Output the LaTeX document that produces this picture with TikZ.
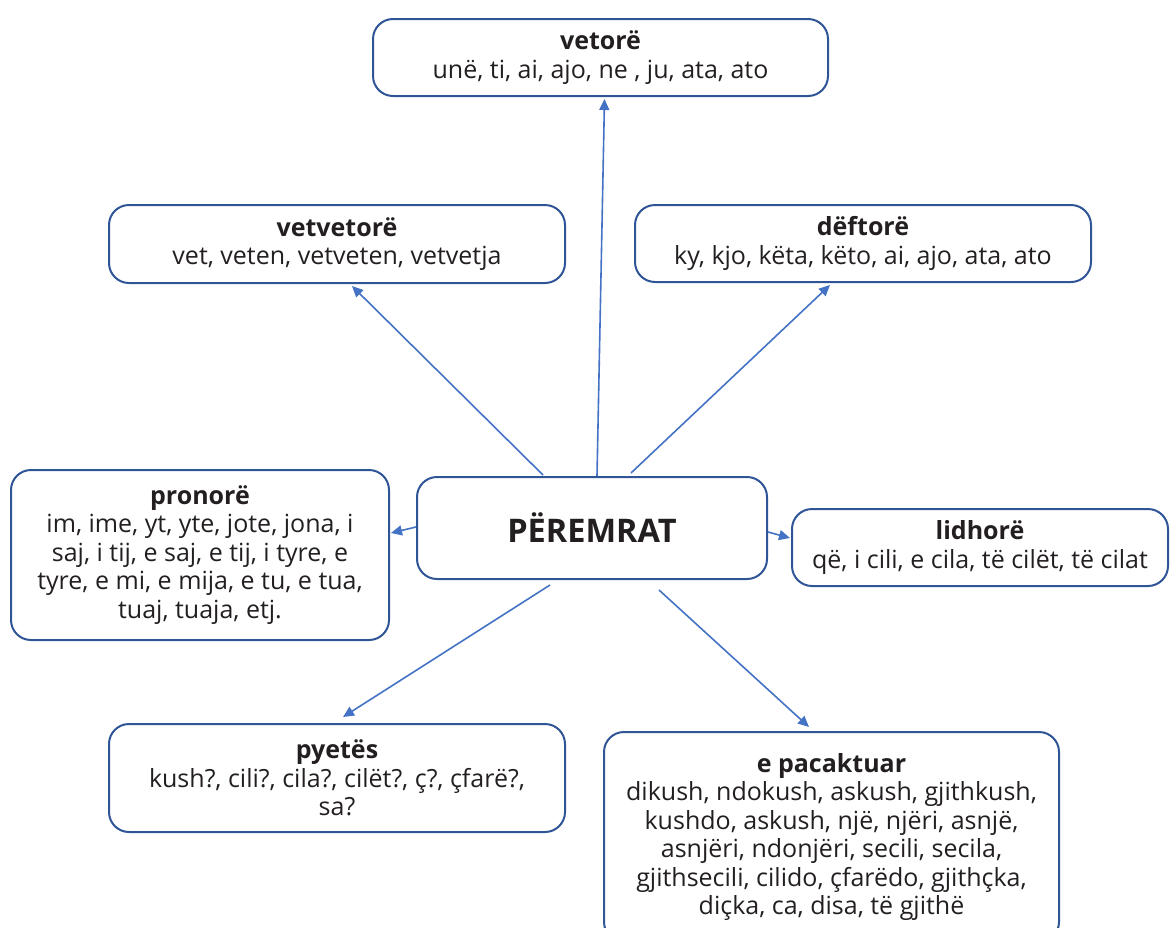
\documentclass[tikz,border=0pt]{standalone}
\usepackage{fontspec}
\setmainfont{Open Sans}
\usetikzlibrary{arrows.meta}
\definecolor{boxblue}{HTML}{2F5597}
\definecolor{arrowblue}{HTML}{4472C4}
\definecolor{ink}{HTML}{231F20}
\tikzset{
  box/.style={draw=boxblue, line width=2pt, rounded corners=20pt, align=center, text=ink, font=\fontsize{25}{28.5}\selectfont},
  link/.style={draw=arrowblue, line width=1.6pt, -{Triangle[length=11pt,width=10pt]}}
}

\begin{document}
\begin{tikzpicture}[x=1pt,y=-1pt]
    \useasboundingbox (0,0) rectangle (1170,927);
    \node[box, minimum width=455, minimum height=77] (vetore) at (600.5,57.5) {\textbf{vetorë}\\unë, ti, ai, ajo, ne , ju, ata, ato};
    \node[box, minimum width=456, minimum height=78] (vetvetore) at (337,244) {\textbf{vetvetorë}\\vet, veten, vetveten, vetvetja};
    \node[box, minimum width=456, minimum height=77] (deftore) at (863,243.5) {\textbf{dëftorë}\\ky, kjo, këta, këto, ai, ajo, ata, ato};
    \node[box, minimum width=378, minimum height=170] (pronore) at (200,555) {\textbf{pronorë}\\im, ime, yt, yte, jote, jona, i\\saj, i tij, e saj, e tij, i tyre, e\\tyre, e mi, e mija, e tu, e tua,\\tuaj, tuaja, etj.};
    \node[box, minimum width=350, minimum height=102, font=\bfseries\fontsize{32.5}{36}\selectfont] (c) at (592,528) {PËREMRAT};
    \node[box, minimum width=376, minimum height=77] (lidhore) at (980,547.5) {\textbf{lidhorë}\\që, i cili, e cila, të cilët, të cilat};
    \node[box, minimum width=456, minimum height=108] (pyetes) at (337,778) {\textbf{pyetës}\\kush?, cili?, cila?, cilët?, ç?, çfarë?,\\sa?};
    \node[box, minimum width=455, minimum height=210] (pacaktuar) at (831.5,837) {\textbf{e pacaktuar}\\dikush, ndokush, askush, gjithkush,\\kushdo, askush, një, njëri, asnjë,\\asnjëri, ndonjëri, secili, secila,\\gjithsecili, cilido, çfarëdo, gjithçka,\\diçka, ca, disa, të gjithë};
    \draw[link] ([xshift=5pt]c.north) -- ([xshift=4pt,yshift=-2pt]vetore.south);
    \draw[link] ([xshift=-49pt,yshift=1pt]c.north) -- ([xshift=15pt,yshift=-2pt]vetvetore.south);
    \draw[link] ([xshift=39pt,yshift=3pt]c.north) -- ([xshift=-33pt,yshift=-2pt]deftore.south);
    \draw[link] ([yshift=1pt]c.west) -- ([xshift=1pt,yshift=22pt]pronore.east);
    \draw[link] ([yshift=-4pt]c.east) -- ([xshift=-1pt,yshift=9.5pt]lidhore.west);
    \draw[link] ([xshift=-42pt,yshift=-5pt]c.south) -- ([xshift=6pt,yshift=6pt]pyetes.north);
    \draw[link] ([xshift=67pt,yshift=-10pt]c.south) -- ([xshift=-22.5pt,yshift=4pt]pacaktuar.north);
\end{tikzpicture}
\end{document}
